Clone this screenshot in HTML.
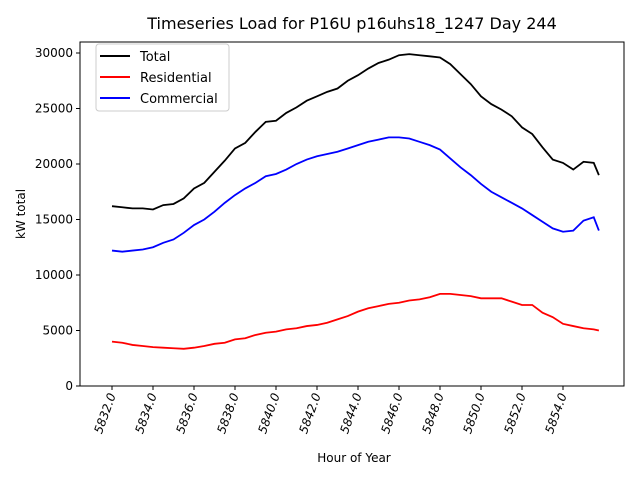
<!DOCTYPE html>
<html><head><meta charset="utf-8"><style>
body{margin:0;background:#fff}
svg text{font-family:"DejaVu Sans","Liberation Sans",sans-serif;fill:#000}
</style></head><body>
<svg id="chart" width="640" height="480" xmlns="http://www.w3.org/2000/svg">
<text x="352" y="29" font-size="16" text-anchor="middle">Timeseries Load for P16U p16uhs18_1247  Day 244</text>
<g id="series"></g>
<rect x="80" y="42" width="544" height="344" fill="none" stroke="#000" stroke-width="1"/>
<g id="axes"></g>
<text transform="translate(25,214) rotate(-90)" font-size="12" text-anchor="middle">kW total</text>
<text x="354" y="462" font-size="12" text-anchor="middle">Hour of Year</text>
<g>
<rect x="96" y="44" width="133" height="67" rx="3" fill="#fff" stroke="#ccc"/>
<line x1="100" y1="56" x2="130" y2="56" stroke="#000" stroke-width="2"/><text x="140" y="61" font-size="13">Total</text>
<line x1="100" y1="77" x2="130" y2="77" stroke="#f00" stroke-width="2"/><text x="140" y="82" font-size="13">Residential</text>
<line x1="100" y1="98" x2="130" y2="98" stroke="#00f" stroke-width="2"/><text x="140" y="103" font-size="13">Commercial</text>
</g>
</svg>
<script>
const hours=[5832,5832.5,5833,5833.5,5834,5834.5,5835,5835.5,5836,5836.5,5837,5837.5,5838,5838.5,5839,5839.5,5840,5840.5,5841,5841.5,5842,5842.5,5843,5843.5,5844,5844.5,5845,5845.5,5846,5846.5,5847,5847.5,5848,5848.5,5849,5849.5,5850,5850.5,5851,5851.5,5852,5852.5,5853,5853.5,5854,5854.5,5855,5855.5,5855.75];
const total=[16200,16100,16000,16000,15900,16300,16400,16900,17800,18300,19300,20300,21400,21900,22900,23800,23900,24600,25100,25700,26100,26500,26800,27500,28000,28600,29100,29400,29800,29900,29800,29700,29600,29000,28100,27200,26100,25400,24900,24300,23300,22700,21500,20400,20100,19500,20200,20100,19000];
const residential=[4000,3900,3700,3600,3500,3450,3400,3350,3450,3600,3800,3900,4200,4300,4600,4800,4900,5100,5200,5400,5500,5700,6000,6300,6700,7000,7200,7400,7500,7700,7800,8000,8300,8300,8200,8100,7900,7900,7900,7600,7300,7300,6600,6200,5600,5400,5200,5100,5000];
const commercial=[12200,12100,12200,12300,12500,12900,13200,13800,14500,15000,15700,16500,17200,17800,18300,18900,19100,19500,20000,20400,20700,20900,21100,21400,21700,22000,22200,22400,22400,22300,22000,21700,21300,20500,19700,19000,18200,17500,17000,16500,16000,15400,14800,14200,13900,14000,14900,15200,14000];
const xTicks=[5832,5834,5836,5838,5840,5842,5844,5846,5848,5850,5852,5854];
const yTicks=[0,5000,10000,15000,20000,25000,30000];
const NS='http://www.w3.org/2000/svg';
const X=h=>112+(h-5832)*20.5;
const Y=v=>386-v*0.0111;
const axes=document.getElementById('axes');
const ser=document.getElementById('series');
function mk(t,a,p){const e=document.createElementNS(NS,t);for(const k in a)e.setAttribute(k,a[k]);p.appendChild(e);return e;}
xTicks.forEach(t=>{
 const l=mk('line',{x1:X(t),y1:386,x2:X(t),y2:390,stroke:'#000'},axes);
 
 
 const tx=mk('text',{transform:`translate(${X(t)+4},395) rotate(-70)`,'font-size':12,'text-anchor':'end','font-style':'italic'},axes);
 tx.textContent=t.toFixed(1);
 
 
});
yTicks.forEach(t=>{
 const l=mk('line',{x1:76,y1:Y(t),x2:80,y2:Y(t),stroke:'#000'},axes);
 
 
 const tx=mk('text',{x:73,y:Y(t)+4,'font-size':12,'text-anchor':'end'},axes);
 tx.textContent=t;
 
 
});
[[total,'#000','total-line'],[residential,'#f00','residential-line'],[commercial,'#00f','commercial-line']].forEach(([d,c,n])=>{
 const p=mk('polyline',{points:d.map((v,i)=>X(hours[i])+','+Y(v)).join(' '),fill:'none',stroke:c,'stroke-width':1.8},ser);
 
 
});
</script>
</body></html>
